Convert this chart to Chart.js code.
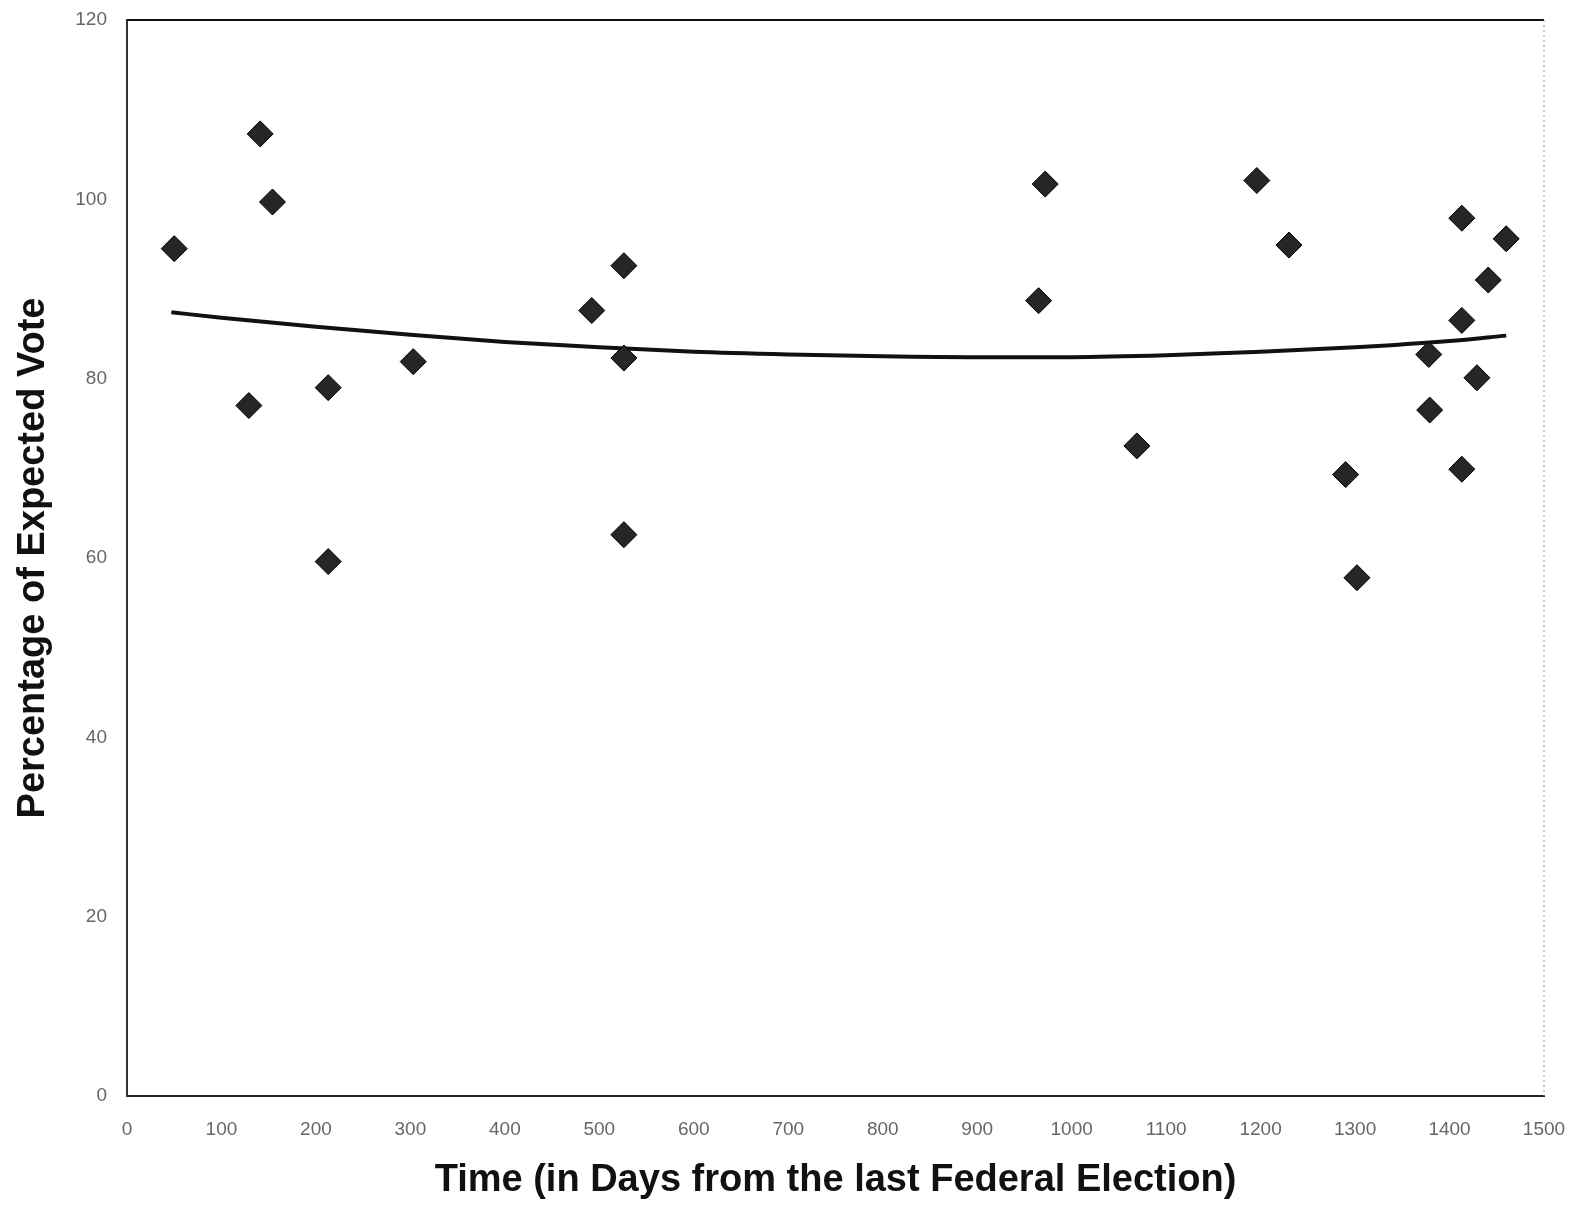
<!DOCTYPE html>
<html>
<head>
<meta charset="utf-8">
<script src="https://cdn.jsdelivr.net/npm/chart.js@4.4.1/dist/chart.umd.min.js"></script>
<style>
  body { margin: 0; background: #fff; }
  #wrap { width: 1579px; height: 1205px; position: relative; }
</style>
</head>
<body>
<div id="wrap"><canvas id="chart"></canvas></div>
<script>
// scatter points
const pointDays = [50, 141, 154, 129, 213, 213, 303, 492, 526, 526, 526, 972, 965, 1069, 1196, 1230, 1290, 1302, 1413, 1460, 1441, 1413, 1378, 1429, 1379, 1413];
const pointVotes = [94.5, 107.3, 99.7, 77.0, 79.0, 59.6, 81.9, 87.6, 92.6, 82.3, 62.6, 101.7, 88.7, 72.5, 102.1, 94.9, 69.3, 57.8, 97.9, 95.6, 91.0, 86.5, 82.7, 80.1, 76.5, 69.9];

// trend line
const trendDays = [47, 100, 200, 300, 400, 500, 600, 700, 800, 900, 1000, 1100, 1200, 1300, 1400, 1460];
const trendVotes = [87.4, 86.8, 85.8, 84.9, 84.1, 83.5, 83.0, 82.7, 82.5, 82.4, 82.4, 82.6, 83.0, 83.5, 84.2, 84.8];

const xTitle = 'Time (in Days from the last Federal Election)';
const yTitle = 'Percentage of Expected Vote';

// top solid border + right dotted border of the plot box
const frame = {
    id: 'frame',
    afterDraw(chart) {
        const { ctx, chartArea: a } = chart;
        ctx.save();
        ctx.strokeStyle = '#111';
        ctx.lineWidth = 2;
        ctx.beginPath();
        ctx.moveTo(a.left, a.top);
        ctx.lineTo(a.right, a.top);
        ctx.stroke();
        ctx.strokeStyle = '#999';
        ctx.lineWidth = 1;
        ctx.setLineDash([2, 3]);
        ctx.beginPath();
        ctx.moveTo(a.right, a.top);
        ctx.lineTo(a.right, a.bottom);
        ctx.stroke();
        ctx.restore();
    }
};

new Chart(document.getElementById('chart').getContext('2d'), {
    type: 'scatter',
    data: {
        datasets: [
            {
                label: 'Vote',
                data: pointDays.map((d, i) => ({ x: d, y: pointVotes[i] })),
                pointStyle: 'rectRot',
                pointRadius: 13,
                backgroundColor: '#262626',
                borderColor: '#000',
                borderWidth: 1
            },
            {
                label: 'Trend',
                type: 'line',
                data: trendDays.map((d, i) => ({ x: d, y: trendVotes[i] })),
                borderColor: '#111',
                borderWidth: 4,
                pointRadius: 0,
                cubicInterpolationMode: 'monotone',
                fill: false
            }
        ]
    },
    options: {
        responsive: true,
        maintainAspectRatio: false,
        animation: false,
        devicePixelRatio: 1,
        layout: { padding: { top: 20, right: 35, left: 0, bottom: 0 } },
        plugins: { legend: { display: false }, tooltip: { enabled: false } },
        scales: {
            x: {
                type: 'linear',
                min: 0, max: 1500,
                afterFit: s => { s.height = 109; s.paddingLeft = 0; s.paddingRight = 0; },
                grid: { display: false, drawTicks: false },
                border: { color: '#222', width: 2 },
                ticks: {
                    stepSize: 100, padding: 22,
                    color: '#666',
                    callback: v => String(v),
                    font: { family: 'Liberation Sans', size: 19 }
                },
                title: {
                    display: true, text: xTitle, color: '#111',
                    padding: { top: 0, bottom: 2 },
                    font: { family: 'Liberation Sans', size: 38, weight: 'bold' }
                }
            },
            y: {
                min: 0, max: 120,
                afterFit: s => { s.width = 127; s.paddingTop = 0; s.paddingBottom = 0; },
                grid: { display: false, drawTicks: false },
                border: { color: '#333', width: 2 },
                ticks: {
                    stepSize: 20, padding: 20,
                    color: '#666',
                    font: { family: 'Liberation Sans', size: 19 }
                },
                title: {
                    display: true, text: yTitle, color: '#111',
                    padding: { top: 11, bottom: 0 },
                    font: { family: 'Liberation Sans', size: 38, weight: 'bold' }
                }
            }
        }
    },
    plugins: [frame]
});
</script>
</body>
</html>
